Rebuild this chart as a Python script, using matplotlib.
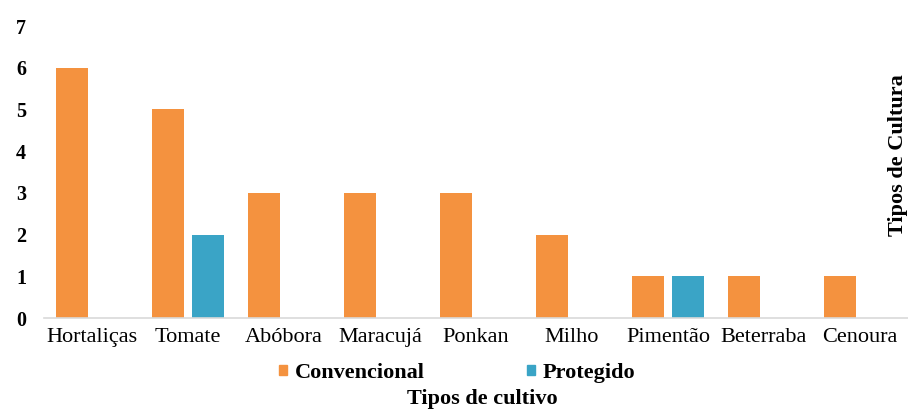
import numpy as np
import matplotlib.pyplot as plt
from matplotlib.patches import Patch

culturas = ["Hortaliças", "Tomate", "Abóbora", "Maracujá", "Ponkan",
            "Milho", "Pimentão", "Beterraba", "Cenoura"]
convencional = [6, 5, 3, 3, 3, 2, 1, 1, 1]
protegido = [0, 2, 0, 0, 0, 0, 1, 0, 0]

laranja = "#F4923F"
azul = "#3AA4C6"

plt.rcParams['font.family'] = ['Liberation Serif', 'DejaVu Serif']

fig = plt.figure(figsize=(9.08, 4.17), dpi=100)
ax = fig.add_axes([44 / 908, 99 / 417, 864 / 908, 292 / 417])

x = np.arange(len(culturas))
w = 0.333
off = 0.208
ax.bar(x - off, convencional, width=w, color=laranja)
ax.bar(x + off, protegido, width=w, color=azul)

ax.set_xlim(-0.5, len(culturas) - 0.5)
ax.set_ylim(0, 7)
ax.set_yticks(range(0, 8))
ax.set_yticklabels([str(i) for i in range(0, 8)], fontsize=14.5, fontweight='bold')
ax.set_xticks(x)
ax.set_xticklabels(culturas, fontsize=16)
ax.tick_params(axis='both', length=0)
ax.tick_params(axis='y', pad=13)
ax.tick_params(axis='x', pad=7)

for s in ['top', 'right', 'left']:
    ax.spines[s].set_visible(False)
ax.spines['bottom'].set_color('#D9D9D9')
ax.spines['bottom'].set_linewidth(1.2)

handles = [Patch(color=laranja, label="Convencional"),
           Patch(color=azul, label="Protegido")]
fig.legend(handles=handles, loc='center', bbox_to_anchor=(457 / 908, 1 - 373 / 417),
           ncol=2, frameon=False, handlelength=0.35, handleheight=0.35,
           handletextpad=0.35, columnspacing=4.6,
           prop={'weight': 'bold', 'size': 16})

fig.text(482 / 908, 1 - 399 / 417, "Tipos de cultivo", ha='center', va='center',
         fontsize=16, fontweight='bold')
fig.text(898 / 908, 1 - 155 / 417, "Tipos de Cultura", ha='center', va='center',
         rotation=90, fontsize=16, fontweight='bold')

fig.savefig("out.png", dpi=100)
